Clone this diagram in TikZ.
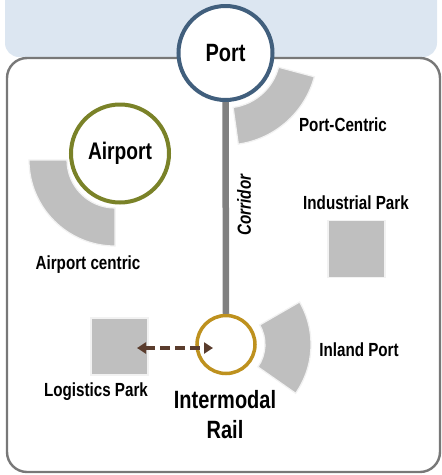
\documentclass[tikz,border=0pt]{standalone}
\usepackage{fontspec}
\newfontfamily\agency[FakeStretch=0.8]{Liberation Sans}
\usetikzlibrary{arrows.meta}
\definecolor{bandblue}{RGB}{220,230,241}
\definecolor{boxgray}{RGB}{120,120,120}
\definecolor{portblue}{RGB}{65,95,125}
\definecolor{airolive}{RGB}{122,130,40}
\definecolor{railgold}{RGB}{190,145,30}
\definecolor{sectgray}{RGB}{191,191,191}
\definecolor{corrgray}{RGB}{128,128,128}
\definecolor{arrowbrown}{RGB}{90,60,45}
\tikzset{
  sect/.style={fill=sectgray, draw=white!90!gray, line width=1.2pt},
  hub/.style={circle, draw, fill=white, line width=4pt, inner sep=0pt},
  lbl/.style={font=\agency\bfseries\fontsize{19}{21}\selectfont, text=black},
  biglbl/.style={font=\agency\bfseries\fontsize{25}{30}\selectfont, text=black},
  sq/.style={fill=sectgray, draw=white!90!gray, line width=1.2pt, minimum width=57pt, minimum height=57pt, inner sep=0pt}
}
\begin{document}
\begin{tikzpicture}[x=1pt,y=-1pt]
\useasboundingbox (0,0) rectangle (442,475);
% top band
\fill[bandblue, rounded corners=14pt] (5,-30) rectangle (437,57);
% main box
\draw[boxgray, line width=2.4pt, rounded corners=20pt, fill=white] (7,58) rectangle (440,472);
% centres
\coordinate (pc) at (225.5,53);
\coordinate (ac) at (115,160);
\coordinate (rc) at (226,344.5);
% sectors
\path[sect] ([shift={(15:92)}]pc) arc[start angle=15, end angle=82, radius=92]
  -- ([shift={(82:55)}]pc) arc[start angle=82, end angle=15, radius=55] -- cycle;
\path[sect] ([shift={(90:86)}]ac) arc[start angle=90, end angle=180, radius=86]
  -- ([shift={(180:48)}]ac) arc[start angle=180, end angle=90, radius=48] -- cycle;
\path[sect] ([shift={(-30:85)}]rc) arc[start angle=-30, end angle=35, radius=85]
  -- ([shift={(35:39)}]rc) arc[start angle=35, end angle=-30, radius=39] -- cycle;
% squares
\node[sq] (indpark) at (356.5,249) {};
\node[sq] (logpark) at (119.5,346.5) {};
% hubs
\node[hub, draw=portblue, minimum size=94pt, biglbl] (port) at (pc) {Port};
\node[hub, draw=airolive, minimum size=98pt, biglbl, font=\agency\bfseries\fontsize{24}{28}\selectfont] (airport) at (120,153.5) {Airport};
\node[hub, draw=railgold, line width=3.5pt, minimum size=58pt] (rail) at (rc) {};
% corridor
\draw[corrgray, line width=6.5pt] (port.south) -- (rail.north);
\node[lbl, font=\agency\bfseries\itshape\fontsize{19}{21}\selectfont, rotate=90] (corr) at (244,205) {Corridor};
% arrow
\coordinate (a1) at (137,348);
\coordinate (a2) at (213,348);
\draw[arrowbrown, line width=3.5pt, dash pattern=on 10pt off 5pt,
  {Triangle[length=9pt,width=11pt]}-{Triangle[length=9pt,width=11pt]}] (a1) -- (a2);
% labels
\node[lbl] (portcl) at (343,125) {Port-Centric};
\node[lbl] (aircl) at (88,265) {Airport centric};
\node[lbl] (indcl) at (356,203) {Industrial Park};
\node[lbl] (inlcl) at (359,350) {Inland Port};
\node[lbl] (logcl) at (96,392) {Logistics Park};
\node[biglbl, align=center] (railcl) at (225,415) {Intermodal\\Rail};
\end{tikzpicture}
\end{document}
